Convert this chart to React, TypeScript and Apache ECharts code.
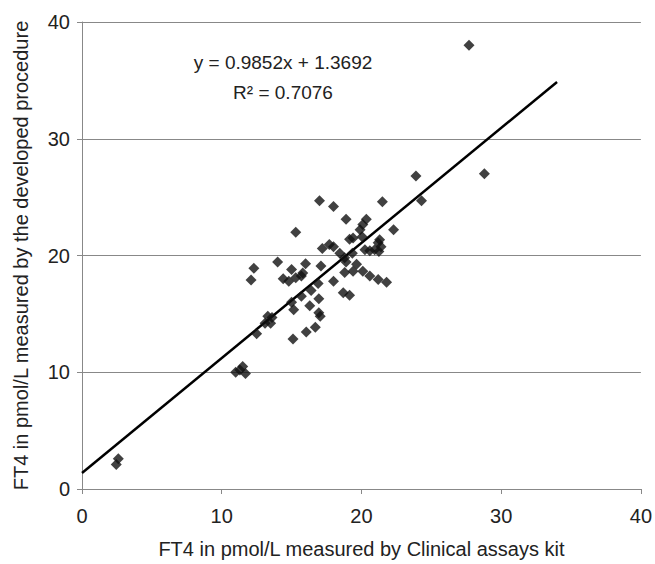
import React, { useEffect, useRef } from "react";
import * as echarts from "echarts";

const xValues: number[] = [
  2.45, 2.6, 11.0, 11.3, 11.5, 11.7, 12.3, 12.1, 12.5, 13.1, 13.3, 13.6, 13.5,
  14.0, 14.4, 14.8, 15.3, 15.7, 15.8, 15.0, 15.3, 15.0, 15.15, 15.1, 15.7, 16.0,
  16.05, 16.7, 16.3, 16.4, 16.9, 16.95, 16.95, 17.05, 17.0, 17.1, 17.2, 17.7,
  18.0, 18.0, 18.0, 18.45, 18.8, 18.9, 18.9, 18.8, 19.4, 18.7, 19.15, 19.15,
  19.4, 19.35, 19.65, 19.9, 20.1, 20.35, 20.05, 20.1, 20.6, 20.25, 20.6, 20.95,
  21.2, 21.3, 21.4, 21.25, 21.2, 21.8, 21.5, 22.3, 23.9, 24.3, 27.7, 28.8,
];
const yValues: number[] = [
  2.1, 2.6, 10.0, 10.2, 10.5, 9.9, 18.9, 17.9, 13.3, 14.2, 14.8, 14.7, 14.2,
  19.45, 18.0, 17.8, 18.1, 18.25, 18.5, 18.8, 22.0, 16.0, 15.35, 12.85, 16.5, 19.3,
  13.45, 13.85, 15.7, 17.0, 17.6, 16.3, 15.1, 14.8, 24.7, 19.1, 20.6, 20.95,
  20.75, 24.2, 17.8, 20.2, 19.8, 23.1, 19.45, 18.55, 18.65, 16.8, 16.6, 21.4,
  21.5, 20.2, 19.25, 22.2, 22.65, 23.1, 21.6, 18.65, 18.25, 20.5, 20.4, 20.5,
  21.1, 21.35, 20.75, 20.35, 17.95, 17.7, 24.6, 22.2, 26.8, 24.7, 38.0, 27.0,
];

const slope = 0.9852;
const intercept = 1.3692;
const trendStartX = 0;
const trendEndX = 34;

const xTicks = [0, 10, 20, 30, 40];
const equationText = "y = 0.9852x + 1.3692";
const r2Text = "R\u00B2 = 0.7076";
const xTitle = "FT4 in pmol/L measured by Clinical assays kit";
const yTitle = "FT4 in pmol/L measured by the developed procedure";

export default function App() {
  const ref = useRef<HTMLDivElement>(null);
  useEffect(() => {
    document.body.style.margin = "0";
    if (!ref.current) return;
    const chart = echarts.init(ref.current, undefined, { renderer: "svg" });
    const font = "'Liberation Sans', Arial, sans-serif";
    const points = xValues.map((x, i) => [x, yValues[i]]);
    const trend = [
      [trendStartX, slope * trendStartX + intercept],
      [trendEndX, slope * trendEndX + intercept],
    ];
    chart.setOption({
      animation: false,
      backgroundColor: "#ffffff",
      grid: { left: 82, right: 13, top: 22, bottom: 73, containLabel: false },
      xAxis: {
        type: "value",
        min: xTicks[0],
        max: xTicks[xTicks.length - 1],
        interval: 10,
        name: xTitle,
        nameLocation: "middle",
        nameGap: 50,
        nameTextStyle: { fontFamily: font, fontSize: 20, color: "#222" },
        axisLine: { show: true, onZero: false, lineStyle: { color: "#888", width: 1 } },
        axisTick: { show: true, length: 5, lineStyle: { color: "#888" } },
        axisLabel: { fontFamily: font, fontSize: 20, color: "#222", margin: 17 },
        splitLine: { show: false },
      },
      yAxis: {
        type: "value",
        min: 0,
        max: 40,
        interval: 10,
        name: yTitle,
        nameLocation: "middle",
        nameGap: 51,
        nameTextStyle: { fontFamily: font, fontSize: 20, color: "#222" },
        axisLine: { show: true, onZero: false, lineStyle: { color: "#888", width: 1 } },
        axisTick: { show: true, length: 5, lineStyle: { color: "#888" } },
        axisLabel: { fontFamily: font, fontSize: 20, color: "#222", margin: 12 },
        splitLine: { show: true, lineStyle: { color: "#888", width: 1 } },
      },
      series: [
        {
          type: "line",
          data: trend,
          symbol: "none",
          lineStyle: { color: "#000", width: 2.5 },
          z: 3,
        },
        {
          type: "scatter",
          data: points,
          symbol: "diamond",
          symbolSize: 11,
          itemStyle: { color: "#111" },
          z: 4,
        },
      ],
      graphic: [
        {
          type: "text",
          x: 283,
          y: 62,
          style: {
            text: equationText,
            font: `19px ${font}`,
            fill: "#222",
            align: "center",
            verticalAlign: "middle",
          },
        },
        {
          type: "text",
          x: 283,
          y: 92,
          style: {
            text: r2Text,
            font: `19px ${font}`,
            fill: "#222",
            align: "center",
            verticalAlign: "middle",
          },
        },
      ],
    });
    return () => chart.dispose();
  }, []);
  return <div ref={ref} style={{ width: 655, height: 564 }} />;
}
